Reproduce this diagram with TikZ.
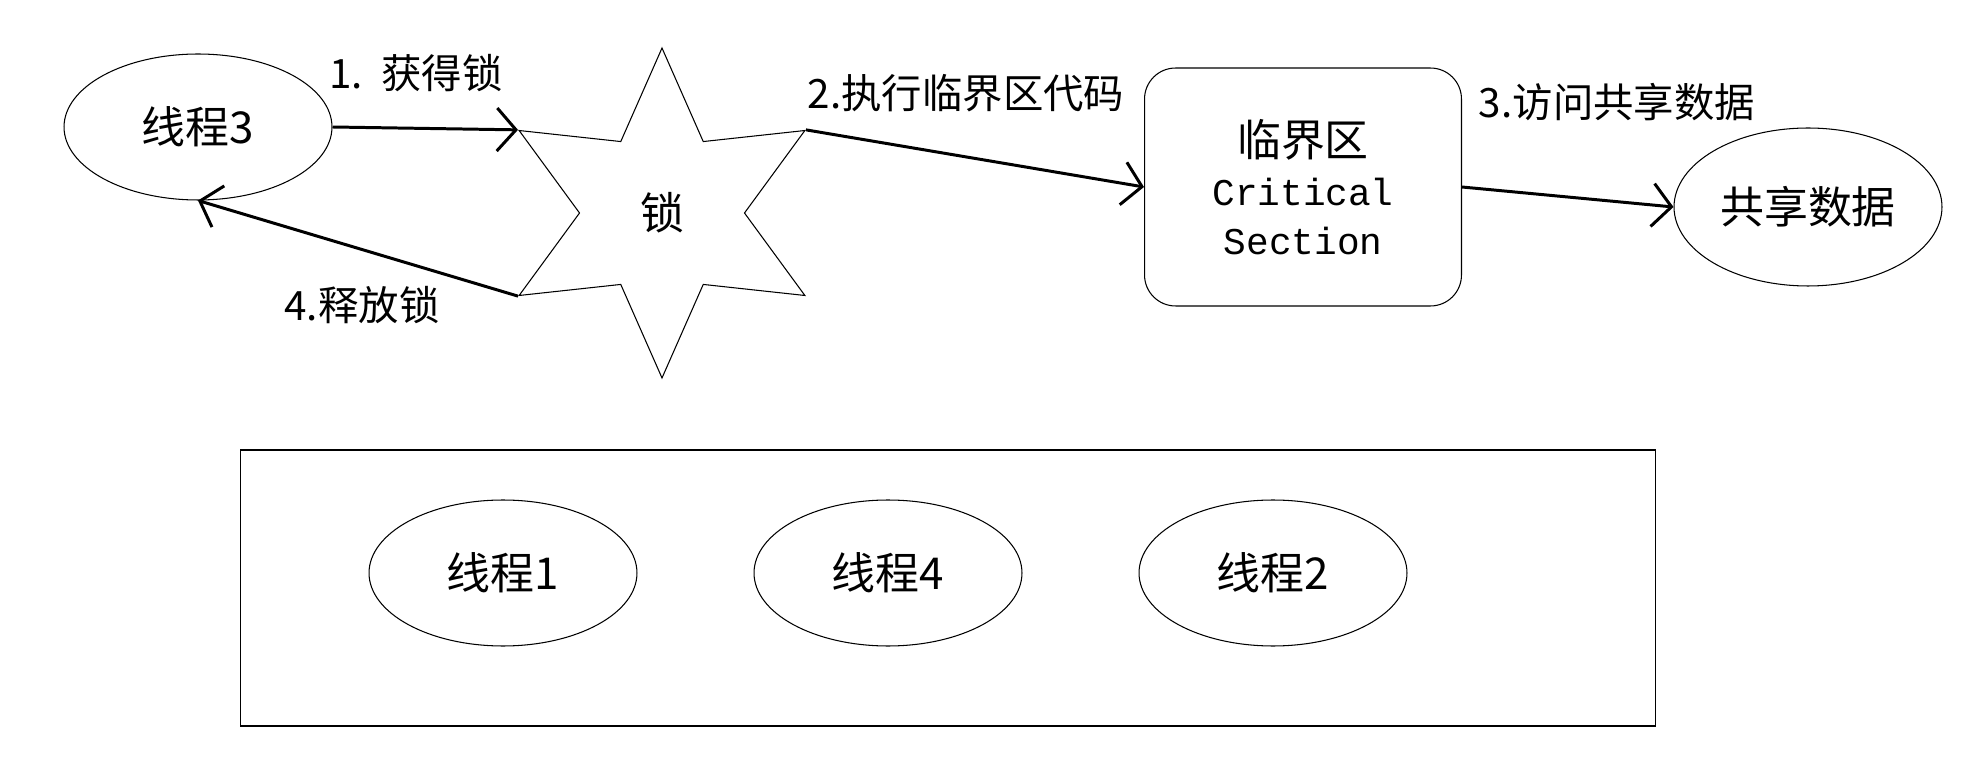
\documentclass[tikz,border=0pt]{standalone}
\usepackage{fontspec}
\setmainfont{Noto Sans CJK SC}
\newfontfamily\monofnt{Liberation Mono}
\usepackage{tikz}
\usetikzlibrary{arrows.meta,shapes.geometric}
\newcommand{\nodefont}{\fontsize{25pt}{28pt}\selectfont}
\newcommand{\labelfont}{\fontsize{23pt}{28pt}\selectfont}

\begin{document}
\begin{tikzpicture}[x=0.02cm, y=-0.02cm,
    thread/.style={draw, ellipse, line width=0.6pt, inner sep=0pt,
      minimum width=5.36cm, minimum height=2.92cm, font=\nodefont},
    flow/.style={line width=1.7pt, -{Straight Barb[length=0.38cm, width=0.86cm, line width=1.7pt]}},
    steplabel/.style={font=\labelfont, inner sep=0pt}]
    \useasboundingbox (0,0) rectangle (1967,766);
    % top row
    \node[thread] (t3) at (198,127) {线程3};
    \node[draw, star, star points=6, star point ratio=2, line width=0.6pt,
      minimum size=6.6cm, inner sep=0pt, font=\nodefont] (lock) at (662,213) {锁};
    \node[draw, rectangle, rounded corners=0.62cm, line width=0.6pt,
      minimum width=6.34cm, minimum height=4.76cm, align=center, font=\nodefont] (cs) at (1303,187)
      {临界区\\{\fontsize{21.5pt}{27pt}\monofnt Critical}\\{\fontsize{21.5pt}{27pt}\monofnt Section}};
    \node[thread, minimum height=3.16cm] (data) at (1808,207) {共享数据};

    \draw[flow] (t3.east) -- (lock.outer point 2);
    \draw[flow] (lock.outer point 6) -- (cs.west);
    \draw[flow] (cs.east) -- (data.west);
    \draw[flow] (lock.outer point 3) -- (t3.south);

    \node[steplabel] (l1) at (416,73) {1.\ \ 获得锁};
    \node[steplabel] (l2) at (966,93) {2.执行临界区代码};
    \node[steplabel] (l3) at (1617,102) {3.访问共享数据};
    \node[steplabel] (l4) at (362,305) {4.释放锁};

    % waiting threads
    \node[draw, line width=0.6pt, minimum width=28.32cm, minimum height=5.52cm] (pool) at (948,588) {};
    \node[thread] (t1) at (503,573) {线程1};
    \node[thread] (t4) at (888,573) {线程4};
    \node[thread] (t2) at (1273,573) {线程2};
\end{tikzpicture}
\end{document}
